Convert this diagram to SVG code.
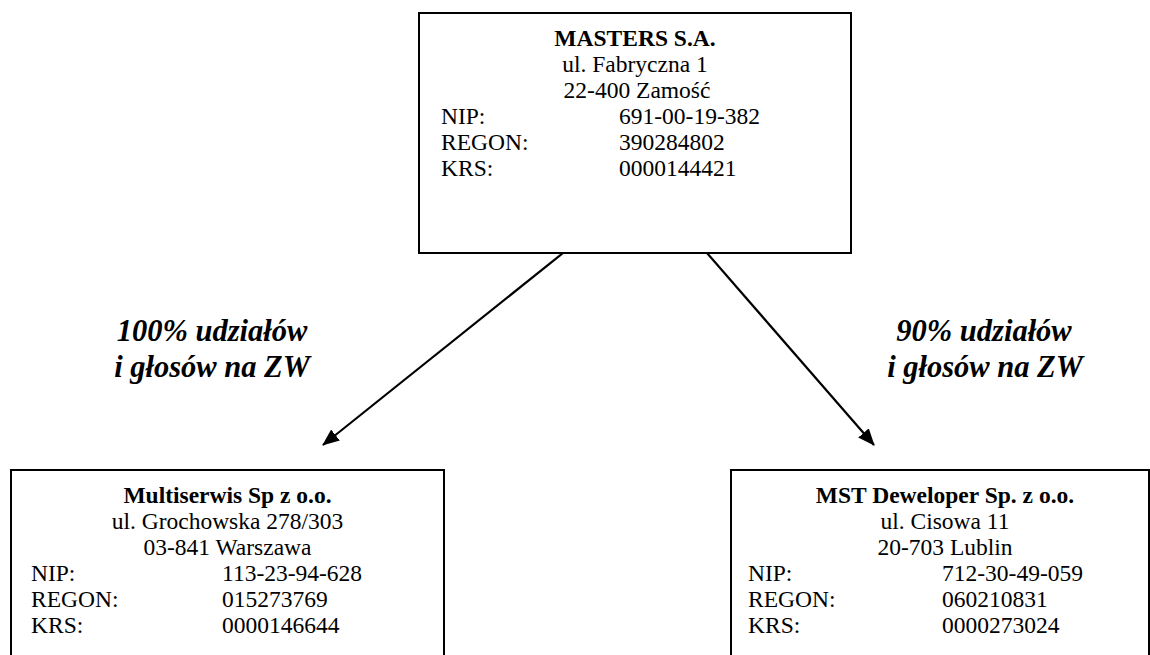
<svg xmlns="http://www.w3.org/2000/svg" width="1150" height="655" viewBox="0 0 1150 655">
<style>
.box{fill:#fff;stroke:#000;stroke-width:2}
.t{font-family:"Liberation Serif","Times New Roman",serif;font-size:23.5px;fill:#000}
.b{font-weight:bold}
.c{text-anchor:middle}
.lbl{font-family:"Liberation Serif","Times New Roman",serif;font-size:30.5px;font-weight:bold;font-style:italic;text-anchor:middle;fill:#000}
.conn{stroke:#000;stroke-width:2.2;fill:none}
</style>
<defs>
<marker id="arr" markerWidth="18" markerHeight="14" refX="16" refY="7" orient="auto" markerUnits="userSpaceOnUse">
<path d="M0,0 L17,7 L0,14 Z" fill="#000"/>
</marker>
</defs>
<rect width="1150" height="655" fill="#fff"/>
<g id="masters">
<rect class="box" x="419" y="13" width="432" height="240"/>
<text class="t b c" x="635" y="46">MASTERS S.A.</text>
<text class="t c" x="635" y="72">ul. Fabryczna 1</text>
<text class="t c" x="637" y="98">22-400 Zamość</text>
<text class="t" x="441" y="124">NIP:</text>
<text class="t" x="619" y="124">691-00-19-382</text>
<text class="t" x="441" y="150">REGON:</text>
<text class="t" x="619" y="150">390284802</text>
<text class="t" x="441" y="176">KRS:</text>
<text class="t" x="619" y="176">0000144421</text>
</g>
<g id="multiserwis">
<rect class="box" x="11" y="470" width="433" height="200"/>
<text class="t b c" x="227.5" y="503">Multiserwis Sp z o.o.</text>
<text class="t c" x="227.5" y="529">ul. Grochowska 278/303</text>
<text class="t c" x="227.5" y="555">03-841 Warszawa</text>
<text class="t" x="31" y="581">NIP:</text>
<text class="t" x="222" y="581">113-23-94-628</text>
<text class="t" x="31" y="607">REGON:</text>
<text class="t" x="222" y="607">015273769</text>
<text class="t" x="31" y="633">KRS:</text>
<text class="t" x="222" y="633">0000146644</text>
</g>
<g id="mst">
<rect class="box" x="731" y="470" width="418" height="200"/>
<text class="t b c" x="945" y="503">MST Deweloper Sp. z o.o.</text>
<text class="t c" x="945" y="529">ul. Cisowa 11</text>
<text class="t c" x="945" y="555">20-703 Lublin</text>
<text class="t" x="748" y="581">NIP:</text>
<text class="t" x="942" y="581">712-30-49-059</text>
<text class="t" x="748" y="607">REGON:</text>
<text class="t" x="942" y="607">060210831</text>
<text class="t" x="748" y="633">KRS:</text>
<text class="t" x="942" y="633">0000273024</text>
</g>
<g id="connectors">
<line class="conn" x1="563" y1="253" x2="323" y2="445" marker-end="url(#arr)"/>
<line class="conn" x1="707" y1="253" x2="874" y2="445" marker-end="url(#arr)"/>
</g>
<g id="labels">
<text class="lbl" x="212" y="341">100% udziałów</text>
<text class="lbl" x="212" y="377">i głosów na ZW</text>
<text class="lbl" x="984" y="341">90% udziałów</text>
<text class="lbl" x="985" y="377">i głosów na ZW</text>
</g>
</svg>
